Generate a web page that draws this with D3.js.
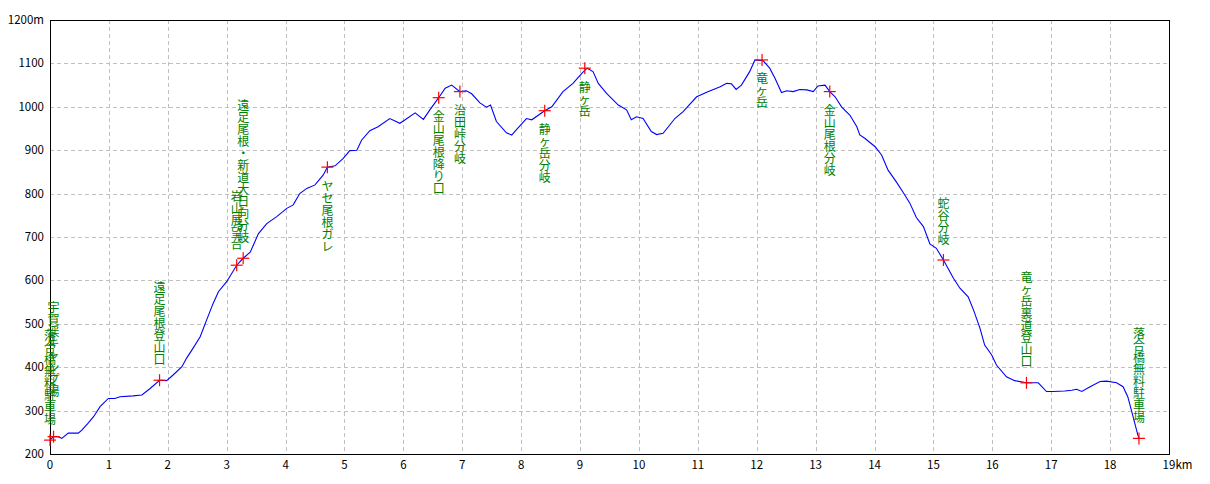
<!DOCTYPE html>
<html>
<head>
<meta charset="utf-8">
<script src="https://cdn.jsdelivr.net/npm/d3@7"></script>
<style>
  body { margin: 0; background: #fff; }
</style>
</head>
<body>
<div id="chart"></div>
<script>
// route profile: distance (km) / elevation (m)
const distKm = [0.00,0.06,0.14,0.20,0.31,0.42,0.48,0.54,0.64,0.74,0.85,0.99,1.10,1.19,1.41,1.56,1.70,1.86,1.98,2.09,
  2.24,2.32,2.43,2.55,2.66,2.77,2.86,3.00,3.17,3.28,3.40,3.54,3.68,3.85,4.02,4.13,4.24,4.36,4.50,4.64,
  4.71,4.84,4.98,5.09,5.21,5.29,5.43,5.57,5.77,5.94,6.03,6.20,6.34,6.45,6.60,6.71,6.82,6.96,7.07,7.16,
  7.30,7.41,7.48,7.58,7.75,7.84,7.89,8.09,8.18,8.40,8.52,8.71,8.88,9.03,9.12,9.22,9.31,9.45,9.65,9.79,
  9.87,9.96,10.07,10.21,10.30,10.41,10.61,10.75,10.98,11.18,11.38,11.49,11.57,11.65,11.74,11.88,11.97,12.11,12.22,12.31,
  12.42,12.51,12.62,12.73,12.85,12.96,13.04,13.16,13.24,13.33,13.44,13.58,13.70,13.75,13.84,14.01,14.12,14.23,14.37,14.49,
  14.60,14.71,14.83,14.94,15.05,15.17,15.34,15.45,15.59,15.68,15.79,15.87,15.99,16.07,16.24,16.38,16.58,16.78,16.92,17.03,
  17.23,17.35,17.43,17.52,17.66,17.83,17.94,18.11,18.22,18.30,18.39,18.47,18.49];
const elevM = [232,240,240,236,248,248,248,255,270,286,309,328,328,332,334,336,351,370,369,382,
  401,421,444,470,509,547,574,597,635,651,665,708,731,747,766,774,800,812,820,843,
  861,864,881,899,900,923,945,954,973,962,970,986,971,993,1021,1043,1050,1035,1037,1030,
  1009,999,1004,966,940,935,943,973,970,991,1000,1035,1054,1077,1089,1081,1054,1031,1004,993,
  970,977,973,943,936,939,973,989,1023,1035,1046,1054,1053,1040,1050,1081,1108,1106,1089,1066,
  1033,1037,1035,1040,1039,1035,1048,1050,1035,1023,1000,981,954,935,927,908,889,854,827,802,
  778,745,724,684,674,647,605,582,562,532,490,451,428,405,378,369,364,364,344,344,
  345,347,349,344,355,367,368,364,355,332,286,244,236];

// waypoints
const wpKm = [0.00,0.06,1.86,3.17,3.28,4.71,6.60,6.96,8.40,9.08,12.09,13.24,15.17,16.58,18.49];
const wpElev = [232,240,370,635,651,861,1021,1035,991,1089,1108,1035,647,364,236];
const wpName = ["落合橋無料駐車場","宇賀渓キャンプ場","遠足尾根登山口","岩山展望台","遠足尾根・新道大日向分岐",
  "ヤセ尾根ガレ","金山尾根降り口","治田峠分岐","静ヶ岳分岐","静ヶ岳","竜ヶ岳","金山尾根分岐",
  "蛇谷分岐","竜ヶ岳裏道登山口","落合橋無料駐車場"];

const xTicks = d3.range(0, 20);
const yTicks = d3.range(200, 1300, 100);

function draw() {
  const width = 1210, height = 484;
  const left = 50, right = 1169, top = 20, bottom = 454;
  const step = 12; // one character per row

  const x = d3.scaleLinear().domain([0, 19]).range([left, right]);
  const y = d3.scaleLinear().domain([200, 1200]).range([bottom, top]);

  const svg = d3.select('#chart').append('svg')
    .attr('width', width).attr('height', height)
    .style('display', 'block')
    .style('font-family', '"Noto Sans CJK JP", sans-serif');

  svg.append('rect').attr('width', width).attr('height', height).attr('fill', '#fff');

  // dashed grid
  const grid = svg.append('g')
    .attr('stroke', '#c0c0c0').attr('stroke-dasharray', '4,3')
    .attr('shape-rendering', 'crispEdges');
  grid.selectAll('line.v').data(xTicks.slice(1, -1)).join('line')
    .attr('x1', d => Math.round(x(d)) + 0.5).attr('x2', d => Math.round(x(d)) + 0.5)
    .attr('y1', top).attr('y2', bottom);
  grid.selectAll('line.h').data(yTicks.slice(1, -1)).join('line')
    .attr('x1', left).attr('x2', right)
    .attr('y1', d => Math.round(y(d)) + 0.5).attr('y2', d => Math.round(y(d)) + 0.5);

  // frame
  svg.append('rect')
    .attr('x', left + 0.5).attr('y', top + 0.5)
    .attr('width', right - left).attr('height', bottom - top)
    .attr('fill', 'none').attr('stroke', '#000').attr('shape-rendering', 'crispEdges');

  // tick labels
  svg.append('g').selectAll('text').data(yTicks).join('text')
    .attr('x', 44).attr('y', d => y(d) + 4)
    .attr('text-anchor', 'end').attr('font-size', 11.5)
    .text((d, i) => i === yTicks.length - 1 ? d + 'm' : d);

  const xl = svg.append('g').selectAll('text').data(xTicks).join('text')
    .attr('x', d => x(d)).attr('y', 469)
    .attr('text-anchor', 'middle').attr('font-size', 11.5)
    .text(d => d);
  const last = xl.filter((d, i) => i === xTicks.length - 1).node();
  svg.append('text')
    .attr('x', x(19) + last.getComputedTextLength() / 2).attr('y', 469)
    .attr('font-size', 11.5).text('km');

  // profile
  const pts = distKm.map((d, i) => [d, elevM[i]]);
  svg.append('path')
    .datum(pts)
    .attr('fill', 'none').attr('stroke', '#0000ff').attr('stroke-width', 1.1)
    .attr('d', d3.line().x(d => x(d[0])).y(d => y(d[1])));

  // waypoint crosses
  const mid = (top + bottom) / 2;
  const wp = wpKm.map((d, i) => ({ px: x(d), py: y(wpElev[i]), name: wpName[i] }));

  const cross = svg.append('g').attr('stroke', '#ff0000').attr('stroke-width', 1.2);
  wp.forEach(d => {
    cross.append('line').attr('x1', d.px - 6).attr('x2', d.px + 6).attr('y1', d.py).attr('y2', d.py);
    cross.append('line').attr('x1', d.px).attr('x2', d.px).attr('y1', d.py - 6).attr('y2', d.py + 6);
  });

  // vertical labels, one glyph per row
  const lab = svg.append('g').attr('fill', '#008000').attr('font-size', 12)
    .attr('text-anchor', 'middle');
  wp.forEach((d, i) => {
    const chars = Array.from(d.name);
    let y0;
    if (d.py > mid) {
      let lift = 0;
      if (i > 0 && Math.abs(d.px - wp[i - 1].px) < 5) lift = step * 2;
      y0 = d.py - 15 - lift - chars.length * step;
    } else {
      y0 = d.py + 13;
    }
    chars.forEach((c, k) => {
      lab.append('text')
        .attr('x', d.px).attr('y', y0 + k * step + 10.5)
        .text(c);
    });
  });
}
draw();
</script>
</body>
</html>
